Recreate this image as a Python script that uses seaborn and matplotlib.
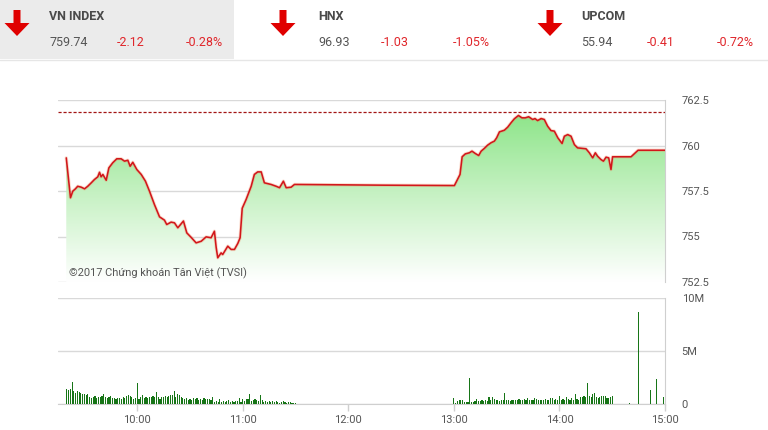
import numpy as np
import pandas as pd
import matplotlib
matplotlib.use("Agg")
import matplotlib.pyplot as plt
from matplotlib.colors import LinearSegmentedColormap
from matplotlib.patches import Rectangle, FancyArrow, PathPatch
import seaborn as sns

# ---- header quotes ----
quote_names = ["VN INDEX", "HNX", "UPCOM"]
quote_close = ["759.74", "96.93", "55.94"]
quote_change = ["-2.12", "-1.03", "-0.41"]
quote_pct = ["-0.28%", "-1.05%", "-0.72%"]

# ---- intraday VN-Index (minutes after 9:00) ----
idx_minutes = [19.7, 22.1, 23.4, 24.9, 26.2, 28.2, 30.1, 31.9, 33.9, 35.7,
               37.6, 38.6, 39.5, 40.5, 42.4, 43.9, 46.1, 48.4, 50.9, 52.8,
               54.7, 56.0, 57.5, 59.8, 62.3, 64.7, 67.0, 69.8, 72.7, 75.5,
               76.8, 79.3, 81.2, 83.1, 86.3, 88.2, 90.7, 93.5, 96.4, 99.2,
               102.0, 103.9, 104.9, 105.8, 107.7, 108.6, 111.5, 113.4, 115.3, 117.2,
               118.5, 119.7, 121.9, 124.8, 126.6, 128.5, 130.5, 132.3, 136.1, 139.0,
               140.9, 143.1, 144.7, 147.5, 149.4, 150.0, 200.0, 240.3, 243.5, 244.7,
               246.5, 248.8, 250.3, 252.2, 254.1, 255.5, 257.3, 259.2, 261.1, 263.0,
               264.3, 265.9, 268.7, 270.6, 272.5, 274.4, 276.7, 278.7, 280.6, 282.5,
               284.8, 286.1, 287.6, 289.6, 291.4, 293.3, 295.2, 297.1, 299.1, 301.5,
               302.8, 304.7, 306.6, 308.5, 310.3, 313.2, 315.1, 317.0, 318.9, 320.4,
               321.7, 323.6, 325.0, 326.5, 328.0, 329.3, 330.2, 340.7, 344.7, 360.0]
idx_values = [759.32, 757.13, 757.49, 757.62, 757.76, 757.71, 757.62, 757.76, 757.95, 758.13,
              758.28, 758.53, 758.28, 758.41, 758.09, 758.77, 759.05, 759.27, 759.27, 759.14,
              759.19, 758.86, 759.08, 758.68, 758.41, 758.04, 757.49, 756.76, 756.08, 755.90,
              755.66, 755.79, 755.75, 755.48, 755.85, 755.20, 754.95, 754.65, 754.74, 754.98,
              754.93, 755.29, 754.40, 753.83, 754.10, 754.01, 754.47, 754.29, 754.29, 754.62,
              754.93, 756.55, 757.03, 757.76, 758.41, 758.55, 758.55, 757.95, 757.86, 757.76,
              757.68, 758.04, 757.68, 757.71, 757.86, 757.86, 757.82, 757.80, 758.41, 759.38,
              759.54, 759.60, 759.69, 759.56, 759.45, 759.69, 759.84, 760.02, 760.15, 760.24,
              760.42, 760.75, 760.84, 761.01, 761.25, 761.47, 761.65, 761.52, 761.52, 761.58,
              761.43, 761.48, 761.37, 761.48, 761.43, 761.06, 760.82, 760.79, 760.42, 760.11,
              760.51, 760.60, 760.51, 760.05, 759.87, 759.84, 759.82, 759.60, 759.32, 759.60,
              759.41, 759.23, 759.14, 759.36, 759.32, 758.68, 759.38, 759.38, 759.74, 759.74]
ref_close = 761.86

# ---- volume (millions), one bar per minute ----
vol_am_start = 20   # 9:20 .. 11:30
vol_am = [1.4, 1.3, 1.4, 2.1, 1.26, 1.0, 1.26, 1.16, 1.07, 0.94,
          0.94, 0.85, 0.91, 0.63, 0.53, 0.7, 0.75, 0.53, 0.63, 0.63,
          0.75, 0.94, 0.7, 0.53, 0.63, 0.75, 0.53, 0.53, 0.44, 0.53,
          0.53, 0.44, 0.63, 0.53, 0.75, 0.85, 0.75, 0.63, 0.44, 0.53,
          2.0, 0.44, 0.63, 0.85, 0.53, 0.63, 0.53, 0.7, 0.63, 0.75,
          0.63, 1.13, 0.63, 0.44, 0.7, 0.63, 0.75, 0.7, 0.75, 0.82,
          0.82, 1.23, 0.7, 0.94, 0.85, 0.7, 0.53, 0.44, 0.53, 0.38,
          0.44, 0.38, 0.53, 0.44, 0.53, 0.38, 0.44, 0.38, 0.53, 0.44,
          0.44, 0.44, 0.38, 0.63, 0.22, 0.31, 0.22, 0.44, 0.22, 0.31,
          0.22, 0.31, 0.38, 0.22, 0.31, 0.22, 0.31, 0.31, 0.53, 0.22,
          0.44, 0.31, 0.44, 0.44, 0.94, 0.31, 0.38, 0.44, 0.38, 0.31,
          0.85, 0.38, 0.22, 0.31, 0.22, 0.31, 0.22, 0.31, 0.22, 0.31,
          0.22, 0.13, 0.22, 0.31, 0.22, 0.13, 0.22, 0.22, 0.13, 0.13,
          0.1]
vol_pm_start = 240  # 13:00 .. 14:30
vol_pm = [0.57, 0.1, 0.25, 0.35, 0.41, 0.35, 0.16, 0.22, 0.2, 2.5,
          0.22, 0.22, 0.25, 0.47, 0.31, 0.25, 0.35, 0.25, 0.41, 0.31,
          0.63, 0.41, 0.66, 0.47, 0.41, 0.35, 0.31, 0.41, 0.35, 1.04,
          0.41, 0.35, 0.31, 0.41, 0.35, 0.41, 0.35, 0.47, 0.41, 0.35,
          0.47, 0.35, 0.6, 0.41, 0.35, 0.41, 0.53, 0.47, 0.41, 0.35,
          0.41, 0.35, 0.47, 0.35, 0.41, 0.53, 0.53, 0.41, 0.47, 0.35,
          0.72, 0.41, 0.47, 0.35, 0.66, 0.47, 0.35, 0.53, 0.41, 0.97,
          0.47, 0.35, 0.66, 0.66, 0.72, 0.66, 2.0, 0.79, 0.66, 0.91,
          1.04, 0.66, 0.53, 0.66, 0.79, 0.72, 0.72, 0.6, 0.53, 0.66,
          0.72]
vol_late_minutes = [340, 345, 352, 355, 359]
vol_late = [0.05, 8.7, 1.3, 2.4, 0.63]

hour_ticks = [60, 120, 180, 240, 300, 360]
hour_labels = ["10:00", "11:00", "12:00", "13:00", "14:00", "15:00"]
price_ticks = [752.5, 755, 757.5, 760, 762.5]
price_labels = ["752.5", "755", "757.5", "760", "762.5"]
vol_ticks = [0, 5, 10]
vol_labels = ["0", "5M", "10M"]

sns.set_style("white")
plt.rcParams["font.family"] = ["Roboto", "DejaVu Sans"]

W, H = 768, 430
fig = plt.figure(figsize=(W / 100, H / 100), dpi=100)

# header strip drawn in pixel space
hdr = fig.add_axes([0, 0, 1, 1], zorder=0)
hdr.set_xlim(0, W)
hdr.set_ylim(H, 0)
hdr.axis("off")
hdr.add_patch(Rectangle((0, 0), 234, 59, color="#ebebeb", lw=0))
hdr.plot([0, W], [59.5, 59.5], color="#e6e6e6", lw=1)
arrow_x = [17, 283, 550]
name_x = [49, 318, 581]
chg_x = [117, 381, 647]
pct_x = [186, 453, 717]
for i in range(3):
    hdr.add_patch(FancyArrow(arrow_x[i], 10, 0, 26, width=7, head_width=25,
                             head_length=13, length_includes_head=True,
                             color="#e00000", lw=0))
    hdr.text(name_x[i], 16, quote_names[i], fontsize=9, fontweight="bold",
             color="#4a4a4a", va="center", ha="left")
    hdr.text(name_x[i], 43, quote_close[i], fontsize=9, color="#555555",
             va="center", ha="left")
    hdr.text(chg_x[i], 43, quote_change[i], fontsize=9, color="#e0262b",
             va="center", ha="left")
    hdr.text(pct_x[i], 43, quote_pct[i], fontsize=9, color="#e0262b",
             va="center", ha="left")

grid_c = "#d9d9d9"
lab_c = "#555555"
x0, x1 = 15, 360

# ---- price panel ----
ax = fig.add_axes([58 / W, 1 - 282 / H, 607 / W, 182 / H], zorder=2)
ax.set_facecolor("none")
df = pd.DataFrame({"t": idx_minutes, "v": idx_values})
poly = ax.fill_between(df["t"], df["v"], 752.5, color="none", lw=0)
clip = PathPatch(poly.get_paths()[0], transform=ax.transData,
                 facecolor="none", edgecolor="none")
ax.add_patch(clip)
cmap = LinearSegmentedColormap.from_list("g", ["#ffffff", "#c9f2c6", "#8ee58a"])
grad = np.linspace(0, 1, 256).reshape(-1, 1)
im = ax.imshow(grad, extent=[x0, x1, 752.5, 761.7], aspect="auto",
               cmap=cmap, origin="lower", zorder=1)
im.set_clip_path(clip)
ax.axhline(ref_close, color="#a31515", lw=0.9, ls=(0, (2.5, 1.5)), zorder=3)
sns.lineplot(data=df, x="t", y="v", color="#f08a5d", lw=2.4, alpha=0.3, ax=ax, zorder=3)
sns.lineplot(data=df, x="t", y="v", color="#d2161b", lw=1.15, ax=ax, zorder=4)
ax.set_xlim(x0, x1)
ax.set_ylim(752.5, 762.5)
ax.set_yticks(price_ticks)
ax.set_yticklabels(price_labels)
ax.yaxis.tick_right()
ax.set_xticks([])
ax.grid(axis="y", color=grid_c, lw=1)
ax.set_axisbelow(True)
ax.set_xlabel("")
ax.set_ylabel("")
ax.tick_params(axis="y", length=0, pad=12, labelsize=8, labelcolor=lab_c)
for s in ["left", "bottom", "top"]:
    ax.spines[s].set_visible(False)
ax.spines["right"].set_color("#cfcfcf")
ax.text(69, 273, "\u00a92017 Chứng khoán Tân Việt (TVSI)", transform=hdr.transData,
        fontsize=7.9, color="#555555", va="center", ha="left", zorder=5)

# ---- volume panel ----
bx = fig.add_axes([58 / W, 1 - 404 / H, 607 / W, 106 / H], zorder=2)
bx.set_facecolor("none")
vol_t = list(range(vol_am_start, vol_am_start + len(vol_am))) + \
    list(range(vol_pm_start, vol_pm_start + len(vol_pm))) + vol_late_minutes
vol_v = vol_am + vol_pm + vol_late
bx.bar(vol_t, vol_v, width=0.65, color="#177517", lw=0, zorder=3)
bx.set_xlim(x0, x1)
bx.set_ylim(0, 10)
bx.set_yticks(vol_ticks)
bx.set_yticklabels(vol_labels)
bx.yaxis.tick_right()
bx.set_xticks(hour_ticks)
bx.set_xticklabels(hour_labels)
bx.grid(axis="y", color=grid_c, lw=1)
bx.set_axisbelow(True)
bx.tick_params(axis="y", length=0, pad=12, labelsize=8, labelcolor=lab_c)
bx.tick_params(axis="x", length=5, width=1, color="#cfcfcf", pad=3,
               labelsize=8, labelcolor=lab_c, bottom=True, direction="out")
for s in ["left", "top"]:
    bx.spines[s].set_visible(False)
bx.spines["right"].set_color("#cfcfcf")
bx.spines["bottom"].set_color("#cfcfcf")

fig.savefig("out.png", dpi=100)
